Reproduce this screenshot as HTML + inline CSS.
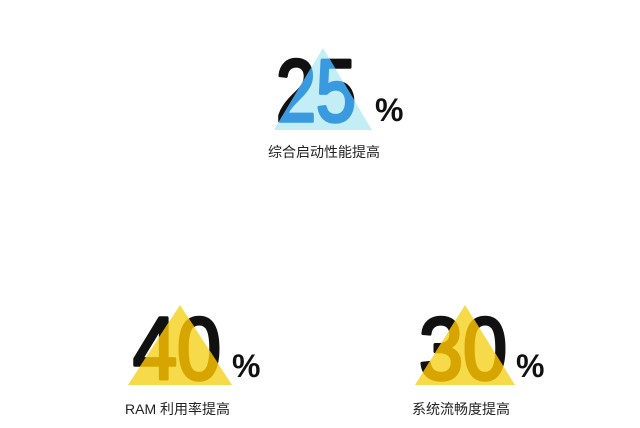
<!DOCTYPE html>
<html><head><meta charset="utf-8">
<style>
html,body{margin:0;padding:0;background:#fff;width:640px;height:428px;overflow:hidden}
svg{display:block}
.num{font-family:"Liberation Sans",sans-serif;font-weight:normal;font-size:88px;stroke-width:3.5px;stroke-linejoin:round}
.pct{font-family:"Liberation Sans",sans-serif;font-weight:bold;font-size:32px;fill:#111}
.lbl{font-family:"Liberation Sans","Noto Sans CJK SC",sans-serif;font-size:14px;fill:#222}
</style></head>
<body>
<svg id="chart" width="640" height="428"></svg>
<script>
const values = [25, 40, 30];
const labels = ["综合启动性能提高", "RAM 利用率提高", "系统流畅度提高"];
const triColors = ["#c4eef5", "#f6da4a", "#f6da4a"];
const overlapColors = ["#3a9ae0", "#d6a500", "#d6a500"];
const layout = [
  {cx:323, top:48, base:130, half:49, numX:276, numY:121, numW:80, pctX:375, pctY:121, lblX:268, lblY:157},
  {cx:180, top:305, base:385, half:52, numX:133, numY:379, numW:88, pctX:232, pctY:377, lblX:125, lblY:414},
  {cx:465, top:305, base:385, half:50, numX:419, numY:379, numW:88, pctX:516, pctY:377, lblX:412, lblY:414}
];
const NS = "http://www.w3.org/2000/svg";
const svg = document.getElementById("chart");
const defs = document.createElementNS(NS, "defs");
svg.appendChild(defs);
values.forEach((v, i) => {
  const L = layout[i];
  const g = document.createElementNS(NS, "g");
  
  
  svg.appendChild(g);
  const pts = `${L.cx},${L.top} ${L.cx - L.half},${L.base} ${L.cx + L.half},${L.base}`;
  const cp = document.createElementNS(NS, "clipPath");
  cp.setAttribute("id", "clip" + i);
  const cpPoly = document.createElementNS(NS, "polygon");
  cpPoly.setAttribute("points", pts);
  cp.appendChild(cpPoly);
  defs.appendChild(cp);

  const n1 = document.createElementNS(NS, "text");
  
  
  n1.setAttribute("class", "num");
  n1.setAttribute("x", L.numX); n1.setAttribute("y", L.numY);
  n1.setAttribute("textLength", L.numW); n1.setAttribute("lengthAdjust", "spacingAndGlyphs");
  n1.setAttribute("fill", "#111"); n1.setAttribute("stroke", "#111");
  n1.textContent = v;
  g.appendChild(n1);

  const tri = document.createElementNS(NS, "polygon");
  
  
  tri.setAttribute("points", pts);
  tri.setAttribute("fill", triColors[i]);
  g.appendChild(tri);

  const n2 = document.createElementNS(NS, "text");
  
  
  n2.setAttribute("class", "num");
  n2.setAttribute("x", L.numX); n2.setAttribute("y", L.numY);
  n2.setAttribute("textLength", L.numW); n2.setAttribute("lengthAdjust", "spacingAndGlyphs");
  n2.setAttribute("fill", overlapColors[i]); n2.setAttribute("stroke", overlapColors[i]);
  n2.setAttribute("clip-path", `url(#clip${i})`);
  n2.textContent = v;
  g.appendChild(n2);

  const p = document.createElementNS(NS, "text");
  
  
  p.setAttribute("class", "pct");
  p.setAttribute("x", L.pctX); p.setAttribute("y", L.pctY);
  p.textContent = "%";
  g.appendChild(p);

  const t = document.createElementNS(NS, "text");
  
  
  t.setAttribute("class", "lbl");
  t.setAttribute("x", L.lblX); t.setAttribute("y", L.lblY);
  t.textContent = labels[i];
  g.appendChild(t);
});
</script>
</body></html>
